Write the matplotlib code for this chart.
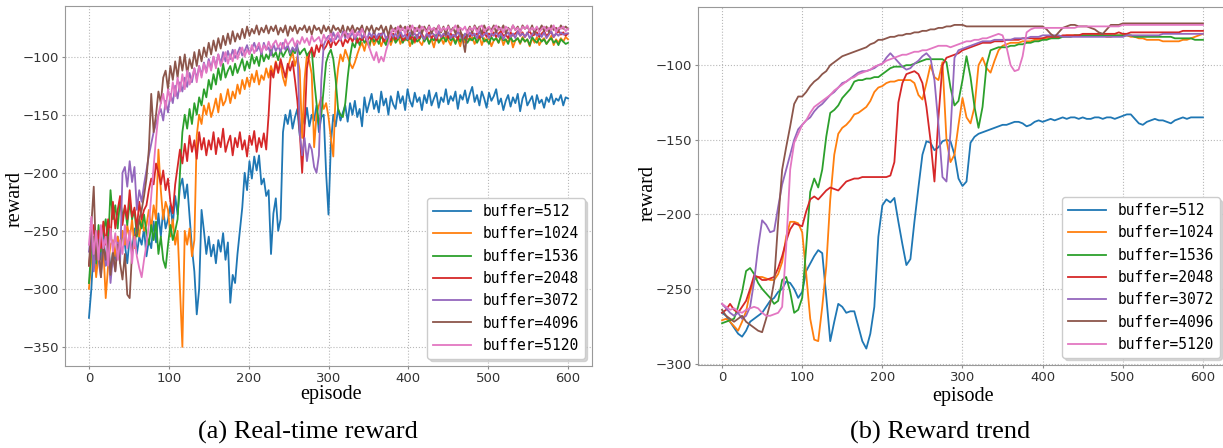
#Import packages
import matplotlib
matplotlib.use('Agg')
import numpy as np
import matplotlib.pyplot as plt

#Episodes: real-time values every 3 steps, trend every 5 steps
real_episodes = np.arange(0, 601, 3)
trend_episodes = np.arange(0, 601, 5)

labels = ['buffer=512', 'buffer=1024', 'buffer=1536', 'buffer=2048',
          'buffer=3072', 'buffer=4096', 'buffer=5120']

#Real-time reward (left panel)
real_512 = [
    -325, -300, -262, -282, -258, -275, -252, -280, -262, -285,
    -268, -275, -255, -270, -250, -262, -278, -255, -268, -248,
    -270, -255, -262, -248, -272, -258, -265, -242, -260, -235,
    -255, -232, -248, -240, -228, -245, -220, -236, -212, -205,
    -222, -210, -238, -265, -285, -322, -300, -232, -250, -270,
    -255, -272, -262, -278, -258, -268, -252, -275, -260, -312,
    -288, -295, -270, -250, -230, -200, -215, -190, -205, -186,
    -198, -185, -210, -205, -220, -215, -270, -235, -222, -250,
    -240, -165, -150, -158, -146, -162, -152, -145, -168, -150,
    -158, -144, -160, -150, -155, -142, -165, -152, -150, -200,
    -236, -175, -150, -160, -145, -155, -148, -142, -156, -140,
    -150, -138, -152, -145, -160, -135, -148, -140, -132, -145,
    -138, -148, -130, -142, -136, -150, -134, -141, -145, -130,
    -140, -134, -146, -128, -138, -143, -131, -139, -135, -146,
    -133, -140, -129, -142, -136, -131, -144, -135, -139, -128,
    -141, -134, -138, -130, -145, -133, -137, -129, -140, -132,
    -126, -139, -133, -142, -130, -136, -144, -131, -138, -134,
    -128, -141, -136, -146, -138, -133, -143, -135, -140, -132,
    -147, -136, -131, -142, -138, -134, -145, -133, -140, -137,
    -144, -135, -139, -132, -141, -136, -138, -133, -142, -135,
    -136]
real_1024 = [
    -300, -275, -262, -290, -270, -285, -265, -308, -280, -262,
    -258, -272, -255, -268, -250, -262, -245, -258, -240, -265,
    -242, -255, -238, -250, -245, -232, -248, -228, -240, -180,
    -215, -240, -225, -232, -255, -240, -262, -250, -300, -350,
    -250, -262, -248, -272, -258, -168, -150, -158, -142, -150,
    -140, -152, -145, -136, -148, -132, -142, -138, -128, -140,
    -130, -136, -124, -132, -120, -128, -118, -126, -115, -122,
    -112, -124, -116, -120, -110, -118, -108, -115, -104, -112,
    -106, -118, -125, -110, -102, -96, -108, -100, -112, -170,
    -120, -98, -104, -115, -178, -150, -142, -135, -145, -140,
    -152, -170, -186, -130, -110, -98, -104, -94, -100, -106,
    -110, -105, -98, -92, -88, -95, -86, -92, -84, -90,
    -86, -83, -91, -85, -88, -82, -90, -84, -87, -81,
    -89, -84, -86, -82, -91, -85, -88, -83, -87, -90,
    -84, -81, -88, -85, -92, -83, -87, -84, -89, -82,
    -86, -90, -83, -87, -85, -91, -82, -88, -84, -86,
    -83, -89, -85, -82, -90, -84, -87, -83, -91, -86,
    -84, -88, -82, -90, -85, -87, -83, -92, -86, -84,
    -89, -83, -87, -85, -91, -84, -88, -83, -90, -86,
    -84, -89, -86, -82, -90, -85, -88, -84, -87, -83,
    -85]
real_1536 = [
    -295, -265, -255, -278, -245, -268, -250, -240, -262, -215,
    -240, -228, -248, -222, -238, -230, -245, -225, -240, -232,
    -255, -240, -248, -236, -252, -262, -245, -258, -242, -270,
    -255, -275, -282, -262, -245, -258, -250, -240, -200, -165,
    -150, -162, -145, -158, -140, -150, -135, -142, -128, -135,
    -120, -128, -115, -124, -110, -120, -106, -118, -112, -108,
    -116, -106, -114, -108, -102, -112, -104, -110, -98, -106,
    -100, -108, -96, -104, -98, -102, -94, -100, -96, -103,
    -94, -100, -96, -92, -99, -94, -97, -92, -98, -95,
    -93, -99, -96, -94, -120, -140, -158, -150, -128, -105,
    -98, -94, -102, -120, -145, -150, -152, -140, -118, -100,
    -88, -92, -84, -90, -83, -88, -85, -91, -82, -87,
    -84, -89, -82, -86, -90, -83, -87, -81, -88, -85,
    -82, -88, -84, -86, -80, -89, -83, -87, -85, -81,
    -87, -83, -89, -84, -86, -81, -88, -85, -83, -87,
    -82, -86, -84, -89, -83, -87, -81, -85, -88, -84,
    -86, -83, -88, -84, -82, -87, -85, -89, -83, -86,
    -84, -88, -82, -86, -85, -89, -83, -87, -86, -84,
    -88, -84, -87, -85, -90, -83, -86, -88, -84, -87,
    -85, -89, -86, -84, -88, -86, -90, -85, -87, -89,
    -88]
real_2048 = [
    -280, -260, -245, -270, -250, -265, -242, -262, -240, -255,
    -225, -248, -232, -220, -245, -228, -240, -215, -238, -230,
    -248, -225, -240, -232, -228, -215, -205, -210, -192, -200,
    -210, -198, -215, -205, -225, -235, -210, -195, -180, -192,
    -175, -190, -168, -182, -172, -188, -165, -180, -170, -185,
    -172, -180, -165, -184, -170, -178, -162, -182, -174, -168,
    -185, -170, -178, -165, -180, -172, -186, -168, -176, -164,
    -182, -170, -178, -166, -180, -150, -112, -118, -105, -114,
    -102, -110, -118, -106, -112, -104, -120, -138, -165, -200,
    -160, -110, -98, -92, -100, -90, -96, -88, -94, -91,
    -86, -92, -85, -90, -87, -84, -91, -85, -88, -83,
    -87, -82, -88, -84, -86, -81, -87, -83, -85, -82,
    -86, -83, -80, -87, -84, -82, -86, -80, -85, -83,
    -81, -86, -84, -80, -85, -82, -87, -81, -84, -80,
    -85, -82, -79, -84, -81, -86, -80, -83, -82, -79,
    -84, -80, -83, -81, -85, -79, -82, -84, -80, -83,
    -79, -82, -80, -84, -81, -78, -83, -80, -82, -79,
    -83, -80, -78, -82, -81, -84, -79, -82, -80, -78,
    -82, -79, -83, -80, -78, -82, -81, -79, -83, -80,
    -78, -82, -80, -79, -83, -80, -78, -81, -79, -82,
    -80]
real_3072 = [
    -268, -250, -285, -262, -275, -290, -258, -280, -265, -295,
    -272, -285, -260, -278, -200, -195, -212, -190, -208, -195,
    -232, -215, -225, -210, -198, -185, -175, -165, -158, -150,
    -145, -155, -138, -148, -132, -140, -125, -136, -122, -130,
    -118, -126, -114, -122, -110, -119, -108, -116, -105, -113,
    -102, -110, -100, -108, -98, -106, -96, -104, -95, -102,
    -94, -101, -97, -92, -99, -95, -90, -97, -93, -88,
    -95, -91, -98, -88, -94, -92, -99, -89, -95, -91,
    -96, -88, -94, -90, -97, -92, -95, -89, -165, -185,
    -170, -190, -175, -180, -195, -200, -185, -120, -90, -85,
    -82, -87, -79, -85, -81, -86, -78, -84, -80, -83,
    -79, -85, -81, -77, -84, -80, -86, -79, -83, -78,
    -84, -80, -82, -78, -85, -81, -79, -83, -80, -84,
    -78, -83, -81, -85, -79, -82, -80, -84, -78, -82,
    -85, -80, -83, -79, -81, -84, -78, -83, -80, -82,
    -79, -84, -81, -83, -78, -82, -85, -80, -83, -79,
    -82, -80, -84, -78, -83, -81, -79, -84, -80, -82,
    -78, -83, -80, -85, -81, -79, -83, -80, -84, -78,
    -82, -80, -83, -79, -84, -81, -78, -82, -80, -83,
    -79, -84, -81, -78, -83, -80, -82, -79, -81, -80,
    -80]
real_4096 = [
    -280, -245, -212, -275, -258, -290, -262, -275, -255, -288,
    -268, -285, -262, -278, -292, -270, -305, -308, -268, -255,
    -252, -240, -232, -220, -205, -180, -132, -165, -150, -130,
    -140, -118, -112, -128, -108, -120, -104, -118, -100, -112,
    -98, -115, -102, -110, -96, -108, -94, -104, -92, -100,
    -88, -98, -86, -95, -84, -93, -82, -90, -80, -89,
    -78, -87, -80, -85, -76, -84, -74, -82, -76, -80,
    -73, -81, -75, -79, -73, -80, -74, -78, -73, -81,
    -75, -79, -73, -82, -74, -78, -73, -80, -75, -77,
    -73, -79, -74, -81, -73, -77, -75, -80, -73, -78,
    -74, -80, -73, -77, -75, -79, -73, -82, -74, -78,
    -73, -79, -75, -77, -73, -81, -74, -78, -73, -80,
    -75, -77, -73, -79, -74, -82, -73, -78, -75, -80,
    -73, -77, -74, -79, -73, -81, -75, -78, -73, -80,
    -74, -78, -73, -80, -75, -77, -73, -79, -74, -81,
    -73, -78, -75, -80, -73, -77, -85, -96, -78, -74,
    -79, -73, -77, -74, -80, -73, -78, -75, -77, -73,
    -79, -74, -77, -73, -80, -75, -78, -73, -77, -74,
    -79, -73, -76, -74, -78, -73, -80, -75, -77, -73,
    -78, -74, -79, -73, -77, -75, -78, -73, -76, -74,
    -76]
real_5120 = [
    -262, -238, -270, -250, -275, -245, -265, -255, -280, -248,
    -268, -252, -275, -258, -270, -245, -265, -250, -278, -255,
    -272, -282, -290, -275, -262, -245, -220, -195, -170, -150,
    -140, -132, -145, -128, -138, -122, -134, -118, -130, -115,
    -128, -112, -124, -118, -110, -122, -108, -118, -106, -114,
    -104, -112, -100, -110, -98, -108, -102, -96, -106, -98,
    -104, -94, -102, -96, -92, -100, -94, -98, -90, -97,
    -92, -88, -96, -90, -94, -87, -93, -89, -86, -92,
    -88, -93, -85, -90, -87, -84, -91, -86, -89, -83,
    -88, -84, -90, -82, -87, -85, -83, -89, -81, -86,
    -84, -80, -87, -82, -79, -85, -81, -78, -84, -80,
    -77, -83, -79, -82, -76, -81, -84, -92, -98, -103,
    -96, -105, -100, -104, -95, -88, -80, -76, -79, -74,
    -78, -75, -80, -74, -77, -73, -79, -75, -78, -74,
    -76, -79, -74, -77, -75, -80, -73, -78, -75, -77,
    -74, -79, -76, -73, -78, -75, -77, -74, -80, -75,
    -77, -74, -79, -75, -73, -78, -76, -74, -79, -75,
    -73, -77, -75, -79, -74, -76, -78, -73, -77, -75,
    -79, -74, -76, -73, -78, -75, -77, -74, -79, -76,
    -74, -78, -75, -77, -73, -79, -75, -76, -74, -78,
    -76]

#Reward trend (right panel)
trend_512 = [
    -266, -268, -272, -276, -280, -282, -278, -272, -270, -268,
    -266, -262, -258, -256, -252, -250, -245, -246, -250, -256,
    -252, -238, -233, -228, -224, -226, -255, -285, -272, -260,
    -262, -266, -265, -265, -275, -285, -290, -280, -262, -215,
    -194, -190, -192, -189, -205, -220, -234, -230, -205, -182,
    -160, -151, -152, -157, -155, -151, -150, -151, -160, -176,
    -181, -178, -152, -148, -146, -145, -144, -143, -142, -141,
    -140, -140, -139, -138, -138, -139, -141, -140, -138, -137,
    -138, -137, -136, -137, -136, -135, -136, -135, -135, -136,
    -135, -136, -136, -135, -135, -136, -135, -135, -136, -135,
    -134, -133, -133, -136, -139, -140, -138, -137, -136, -137,
    -137, -138, -139, -137, -136, -135, -136, -135, -135, -135,
    -135]
trend_1024 = [
    -271, -270, -272, -275, -278, -272, -265, -252, -244, -242,
    -242, -243, -244, -244, -240, -232, -215, -205, -205, -206,
    -212, -240, -270, -284, -285, -262, -235, -190, -160, -146,
    -142, -140, -137, -133, -132, -130, -128, -124, -118, -115,
    -114, -112, -111, -111, -110, -110, -110, -110, -112, -120,
    -123, -112, -100, -108, -110, -98, -150, -165, -160, -140,
    -122, -135, -139, -128, -100, -95, -102, -105, -97, -90,
    -87, -86, -85, -85, -85, -84, -84, -84, -83, -83,
    -82, -82, -82, -81, -81, -81, -80, -80, -80, -80,
    -80, -80, -80, -80, -80, -80, -81, -81, -80, -80,
    -80, -80, -81, -81, -82, -82, -83, -83, -83, -83,
    -84, -84, -84, -84, -84, -83, -83, -82, -81, -80,
    -79]
trend_1536 = [
    -273, -272, -271, -270, -262, -252, -238, -236, -240, -246,
    -250, -253, -256, -260, -258, -244, -242, -252, -266, -264,
    -256, -222, -185, -176, -182, -170, -148, -132, -130, -127,
    -122, -119, -116, -111, -110, -110, -109, -109, -108, -108,
    -106, -104, -102, -101, -101, -101, -100, -100, -99, -98,
    -97, -96, -96, -96, -96, -96, -98, -115, -127, -124,
    -110, -94, -108, -128, -142, -128, -100, -90, -89, -88,
    -88, -88, -87, -87, -86, -86, -85, -85, -84, -84,
    -83, -83, -82, -82, -82, -81, -81, -81, -80, -80,
    -80, -80, -80, -80, -80, -80, -80, -80, -80, -80,
    -80, -80, -80, -81, -81, -81, -81, -81, -81, -81,
    -81, -81, -81, -82, -82, -82, -82, -82, -83, -83,
    -83]
trend_2048 = [
    -266, -264, -260, -264, -266, -262, -258, -250, -241, -242,
    -244, -244, -243, -242, -236, -228, -218, -210, -206, -207,
    -208, -198, -190, -188, -190, -187, -184, -182, -183, -184,
    -181, -178, -177, -176, -176, -175, -175, -175, -175, -175,
    -175, -175, -174, -165, -125, -112, -106, -105, -104, -106,
    -112, -128, -150, -178, -135, -100, -95, -94, -93, -92,
    -90, -89, -88, -87, -86, -85, -85, -85, -84, -84,
    -84, -83, -83, -83, -83, -82, -82, -82, -82, -82,
    -82, -81, -81, -81, -81, -80, -80, -80, -80, -80,
    -79, -79, -79, -79, -79, -79, -79, -79, -79, -78,
    -79, -79, -78, -78, -78, -78, -78, -78, -78, -78,
    -78, -78, -78, -78, -78, -77, -77, -77, -77, -77,
    -77]
trend_3072 = [
    -260, -263, -266, -268, -266, -270, -268, -262, -245, -222,
    -204, -207, -212, -211, -195, -180, -170, -160, -150, -143,
    -140, -137, -135, -131, -128, -126, -123, -120, -118, -115,
    -112, -111, -109, -107, -105, -104, -104, -103, -102, -100,
    -99, -95, -92, -95, -98, -101, -103, -102, -99, -97,
    -94, -92, -95, -110, -140, -175, -178, -145, -95, -90,
    -89, -88, -87, -86, -85, -84, -84, -84, -83, -83,
    -83, -83, -83, -82, -82, -82, -82, -81, -81, -81,
    -80, -80, -80, -80, -80, -81, -81, -81, -81, -81,
    -81, -81, -81, -81, -81, -81, -81, -81, -81, -81,
    -81, -80, -80, -80, -80, -80, -80, -80, -80, -80,
    -79, -79, -79, -79, -79, -79, -79, -79, -79, -79,
    -79]
trend_4096 = [
    -264, -268, -270, -272, -270, -268, -272, -274, -276, -278,
    -279, -270, -260, -245, -205, -170, -155, -141, -126, -121,
    -121, -118, -114, -111, -109, -106, -104, -100, -98, -96,
    -94, -93, -92, -91, -90, -89, -88, -86, -85, -83,
    -83, -82, -81, -81, -80, -80, -79, -79, -78, -78,
    -77, -77, -76, -76, -75, -75, -74, -74, -73, -73,
    -73, -74, -74, -74, -74, -74, -74, -74, -74, -74,
    -74, -74, -74, -74, -74, -74, -74, -74, -74, -74,
    -74, -76, -79, -81, -78, -75, -74, -73, -73, -74,
    -74, -74, -75, -76, -78, -79, -76, -73, -73, -73,
    -72, -72, -72, -72, -72, -72, -72, -72, -72, -72,
    -72, -72, -72, -72, -72, -72, -72, -72, -72, -72,
    -72]
trend_5120 = [
    -260, -262, -264, -263, -265, -266, -264, -263, -262, -263,
    -266, -268, -268, -267, -266, -262, -222, -170, -152, -146,
    -140, -137, -132, -128, -126, -124, -122, -120, -117, -115,
    -113, -111, -109, -108, -106, -105, -104, -103, -101, -100,
    -99, -97, -96, -95, -94, -93, -93, -92, -91, -91,
    -90, -90, -89, -88, -87, -87, -87, -88, -87, -86,
    -85, -84, -84, -83, -83, -82, -82, -81, -80, -79,
    -80, -88, -100, -104, -103, -94, -78, -76, -75, -75,
    -75, -75, -75, -75, -75, -75, -75, -75, -75, -74,
    -74, -74, -74, -74, -74, -74, -74, -74, -74, -74,
    -73, -73, -73, -73, -73, -73, -73, -73, -73, -73,
    -73, -73, -73, -73, -73, -73, -73, -73, -73, -73,
    -73]

real_series = [real_512, real_1024, real_1536, real_2048, real_3072, real_4096, real_5120]
trend_series = [trend_512, trend_1024, trend_1536, trend_2048, trend_3072, trend_4096, trend_5120]


def style_axis(ax, ylim, yticks):
    ax.set_xlim(-30, 630)
    ax.set_ylim(*ylim)
    ax.set_xticks(range(0, 601, 100))
    ax.set_yticks(yticks)
    ax.grid(True, linestyle=':', color='0.72', linewidth=0.8)
    ax.set_axisbelow(True)
    for sp in ax.spines.values():
        sp.set_color('0.6')
    ax.tick_params(labelsize=9.5, length=2.5, pad=2, color='0.55', labelcolor='0.2')
    ax.legend(loc='lower right', prop={'family': 'DejaVu Sans Mono', 'size': 10.5},
              handlelength=2.6, edgecolor='0.8', fancybox=True, framealpha=1,
              shadow={'color': '0.75', 'alpha': 0.6})


def main():
    fig = plt.figure(figsize=(12.23, 4.48), dpi=100)
    ax1 = fig.add_axes([65 / 1223, 82 / 448, 527 / 1223, 360 / 448])
    ax2 = fig.add_axes([698 / 1223, 83 / 448, 529 / 1223, 358 / 448])

    for lab, vals in zip(labels, real_series):
        ax1.plot(real_episodes, vals, lw=1.3, label=lab)
    for lab, vals in zip(labels, trend_series):
        ax2.plot(trend_episodes, vals, lw=1.3, label=lab)

    style_axis(ax1, (-366.5, -56.3), range(-350, -99, 50))
    style_axis(ax2, (-301, -61), range(-300, -99, 50))

    serif = 'Liberation Serif'
    ax1.set_xlabel('episode', fontfamily=serif, fontsize=14.5, va='center')
    ax1.set_ylabel('reward', fontfamily=serif, fontsize=14.5, va='center')
    ax1.xaxis.set_label_coords(0.505, -0.078)
    ax1.yaxis.set_label_coords(-0.094, 0.464)
    ax2.set_xlabel('episode', fontfamily=serif, fontsize=14.5, va='center')
    ax2.set_ylabel('reward', fontfamily=serif, fontsize=14.5, va='center')
    ax2.xaxis.set_label_coords(0.501, -0.089)
    ax2.yaxis.set_label_coords(-0.095, 0.480)

    fig.text(308 / 1223, 1 - 432 / 448, '(a) Real-time reward', ha='center', va='center',
             fontfamily=serif, fontsize=19)
    fig.text(940 / 1223, 1 - 432 / 448, '(b) Reward trend', ha='center', va='center',
             fontfamily=serif, fontsize=19)

    fig.savefig('out.png', dpi=100)


if __name__ == '__main__':
    main()
